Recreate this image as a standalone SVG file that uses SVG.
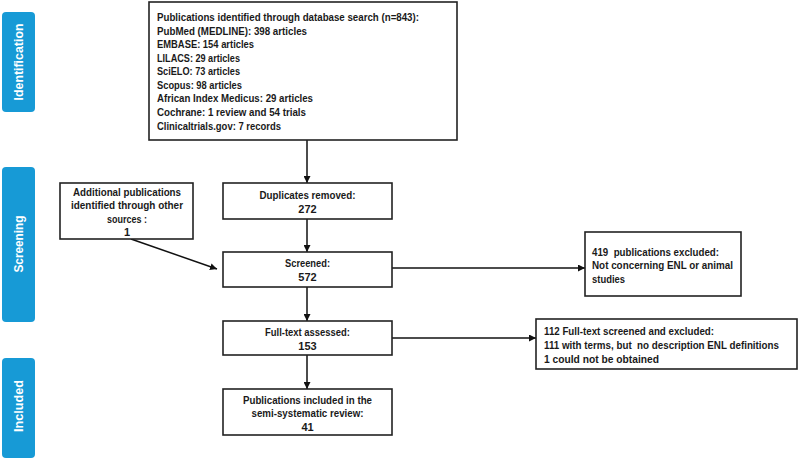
<svg xmlns="http://www.w3.org/2000/svg" width="800" height="460" viewBox="0 0 800 460">
<style>
.box{fill:#fff;stroke:#222;stroke-width:1.6}
.lab{fill:#179ad6}
.t{font-family:"Liberation Sans",Arial,sans-serif;font-weight:bold;font-size:11px;fill:#1a1a1a}
.c{text-anchor:middle}
.lt{font-family:"Liberation Sans",Arial,sans-serif;font-weight:bold;font-size:12.5px;fill:#fff;text-anchor:middle}
.ln{stroke:#111;stroke-width:1.5;fill:none;marker-end:url(#ah)}
</style>
<defs>
<marker id="ah" viewBox="0 0 10 10" refX="10" refY="5" markerWidth="7" markerHeight="7" markerUnits="userSpaceOnUse" orient="auto">
<path d="M0,0 L10,5 L0,10 z" fill="#111"/>
</marker>
</defs>
<rect width="800" height="460" fill="#fff"/>

<g id="label-identification">
<rect class="lab" x="2" y="12" width="33" height="100" rx="4"/>
<text class="lt" transform="translate(22.5,62) rotate(-90)" textLength="77" lengthAdjust="spacingAndGlyphs">Identification</text>
</g>
<g id="label-screening">
<rect class="lab" x="2" y="167" width="33" height="155" rx="4"/>
<text class="lt" transform="translate(22.5,244) rotate(-90)" textLength="57" lengthAdjust="spacingAndGlyphs">Screening</text>
</g>
<g id="label-included">
<rect class="lab" x="2" y="358" width="33" height="100" rx="4"/>
<text class="lt" transform="translate(22.5,406) rotate(-90)" textLength="52" lengthAdjust="spacingAndGlyphs">Included</text>
</g>

<g id="connectors">
<line class="ln" x1="307" y1="140" x2="307" y2="183"/>
<line class="ln" x1="307" y1="219" x2="307" y2="252"/>
<line class="ln" x1="307" y1="287" x2="307" y2="321"/>
<line class="ln" x1="307" y1="355" x2="307" y2="389"/>
<line class="ln" x1="131" y1="239" x2="217" y2="269"/>
<line class="ln" x1="392" y1="268" x2="585" y2="268"/>
<line class="ln" x1="392" y1="338" x2="536" y2="338"/>
</g>

<g id="database-search">
<rect class="box" x="149" y="2" width="308" height="138"/>
<text class="t" x="157" y="21" textLength="262" lengthAdjust="spacingAndGlyphs">Publications identified through database search (n=843):</text>
<text class="t" x="157" y="35" textLength="150" lengthAdjust="spacingAndGlyphs">PubMed (MEDLINE): 398 articles</text>
<text class="t" x="157" y="48" textLength="97" lengthAdjust="spacingAndGlyphs">EMBASE: 154 articles</text>
<text class="t" x="157" y="62" textLength="83" lengthAdjust="spacingAndGlyphs">LILACS: 29 articles</text>
<text class="t" x="157" y="75" textLength="83" lengthAdjust="spacingAndGlyphs">SciELO: 73 articles</text>
<text class="t" x="157" y="89" textLength="85" lengthAdjust="spacingAndGlyphs">Scopus: 98 articles</text>
<text class="t" x="157" y="102" textLength="156" lengthAdjust="spacingAndGlyphs">African Index Medicus: 29 articles</text>
<text class="t" x="157" y="116" textLength="149" lengthAdjust="spacingAndGlyphs">Cochrane: 1 review and 54 trials</text>
<text class="t" x="157" y="130" textLength="124" lengthAdjust="spacingAndGlyphs">Clinicaltrials.gov: 7 records</text>
</g>

<g id="additional">
<rect class="box" x="60" y="183" width="133" height="56"/>
<text class="t c" x="127" y="196" textLength="108" lengthAdjust="spacingAndGlyphs">Additional publications</text>
<text class="t c" x="127" y="209" textLength="112" lengthAdjust="spacingAndGlyphs">identified through other</text>
<text class="t c" x="127" y="223" textLength="40" lengthAdjust="spacingAndGlyphs">sources :</text>
<text class="t c" x="127" y="236">1</text>
</g>

<g id="duplicates">
<rect class="box" x="223" y="183" width="169" height="36"/>
<text class="t c" x="307.5" y="199" textLength="96" lengthAdjust="spacingAndGlyphs">Duplicates removed:</text>
<text class="t c" x="307.5" y="213">272</text>
</g>

<g id="screened">
<rect class="box" x="223" y="252" width="169" height="35"/>
<text class="t c" x="307.5" y="267" textLength="45" lengthAdjust="spacingAndGlyphs">Screened:</text>
<text class="t c" x="307.5" y="281">572</text>
</g>

<g id="fulltext">
<rect class="box" x="223" y="321" width="169" height="34"/>
<text class="t c" x="307.5" y="336" textLength="85" lengthAdjust="spacingAndGlyphs">Full-text assessed:</text>
<text class="t c" x="307.5" y="350">153</text>
</g>

<g id="included">
<rect class="box" x="223" y="389" width="169" height="46"/>
<text class="t c" x="307.5" y="404" textLength="129" lengthAdjust="spacingAndGlyphs">Publications included in the</text>
<text class="t c" x="307.5" y="417" textLength="112" lengthAdjust="spacingAndGlyphs">semi-systematic review:</text>
<text class="t c" x="307.5" y="431">41</text>
</g>

<g id="excluded-screening">
<rect class="box" x="585" y="232" width="156" height="64"/>
<text class="t" x="592" y="256" xml:space="preserve" textLength="127" lengthAdjust="spacingAndGlyphs">419  publications excluded:</text>
<text class="t" x="592" y="269" textLength="141" lengthAdjust="spacingAndGlyphs">Not concerning ENL or animal</text>
<text class="t" x="592" y="283" textLength="33" lengthAdjust="spacingAndGlyphs">studies</text>
</g>

<g id="excluded-fulltext">
<rect class="box" x="536" y="319" width="261" height="50"/>
<text class="t" x="544" y="335" textLength="170" lengthAdjust="spacingAndGlyphs">112 Full-text screened and excluded:</text>
<text class="t" x="544" y="349" xml:space="preserve" textLength="235" lengthAdjust="spacingAndGlyphs">111 with terms, but  no description ENL definitions</text>
<text class="t" x="544" y="363" textLength="115" lengthAdjust="spacingAndGlyphs">1 could not be obtained</text>
</g>
</svg>
